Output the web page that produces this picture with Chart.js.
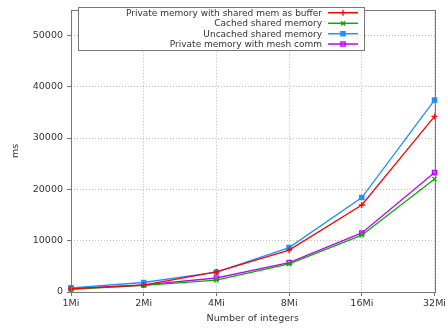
<!DOCTYPE html>
<html><head><meta charset="utf-8">
<script src="https://cdn.jsdelivr.net/npm/chart.js@4/dist/chart.umd.min.js"></script>
<style>html,body{margin:0;padding:0;background:#fff}#w{width:448px;height:328px}</style>
</head><body><div id="w"><canvas id="c"></canvas></div>
<script>
const categories = ['1Mi','2Mi','4Mi','8Mi','16Mi','32Mi'];
const seriesNames = ['Private memory with shared mem as buffer','Cached shared memory','Uncached shared memory','Private memory with mesh comm'];
const privateShared = [600, 1350, 3900, 8150, 16950, 34200];
const cachedShared = [500, 1280, 2300, 5480, 11070, 22000];
const uncachedShared = [820, 1850, 3880, 8650, 18400, 37400];
const privateMesh = [700, 1400, 2730, 5730, 11500, 23300];
const yTicks = [0, 10000, 20000, 30000, 40000, 50000];
const FONT = 'DejaVu Sans';
const TXT = '#333';

const styles = [
  {c:'#ff0000', p:'cross', bg:'#ff0000'},
  {c:'#00b000', p:'crossRot', bg:'#00b000'},
  {c:'#1e8fff', p:'rect', bg:'#1e8fff'},
  {c:'#c000ff', p:'rect', bg:'rgba(192,0,255,0.35)'}
];
const values = [privateShared, cachedShared, uncachedShared, privateMesh];

const legendPlugin = {
  id:'boxLegend',
  afterDraw(chart){
    const ctx = chart.ctx, a = chart.chartArea;
    ctx.save();
    ctx.strokeStyle = '#777'; ctx.lineWidth = 1; ctx.setLineDash([]);
    ctx.strokeRect(Math.round(a.left)+0.5, Math.round(a.top)+0.5, Math.round(a.right-a.left), Math.round(a.bottom-a.top));
    const bx=78, by=7, bw=286, bh=43;
    ctx.fillStyle='#fff'; ctx.fillRect(bx,by,bw,bh);
    ctx.strokeStyle='#777'; ctx.strokeRect(bx+0.5,by+0.5,bw,bh);
    ctx.font = '9px "'+FONT+'"'; ctx.textAlign='right'; ctx.textBaseline='middle';
    const rows=[12.7,23.3,33.7,44];
    chart.data.datasets.forEach((ds,i)=>{
      const y=rows[i];
      ctx.fillStyle=TXT; ctx.fillText(ds.label, 322, y+0.5);
      ctx.strokeStyle=ds.borderColor; ctx.lineWidth=1.5;
      ctx.beginPath(); ctx.moveTo(328,y); ctx.lineTo(358,y); ctx.stroke();
      ctx.fillStyle=ds.pointBackgroundColor; ctx.strokeStyle=ds.borderColor; ctx.lineWidth=1.3;
      Chart.helpers.drawPoint(ctx,{pointStyle:ds.pointStyle,radius:3,borderWidth:1.3,rotation:0},343,y);
    });
    ctx.restore();
  }
};

new Chart(document.getElementById('c'), {
  type:'line',
  data:{
    labels:categories,
    datasets: values.map((v,i)=>({
      label:seriesNames[i], data:v,
      borderColor:styles[i].c, borderWidth:1.3,
      pointStyle:styles[i].p, pointRadius:3, pointBorderWidth:1.3,
      pointBackgroundColor:styles[i].bg, pointBorderColor:styles[i].c,
      tension:0, fill:false
    }))
  },
  options:{
    responsive:true, maintainAspectRatio:false, animation:false,
    layout:{padding:{top:4,right:11,left:0,bottom:0}},
    plugins:{legend:{display:false}, tooltip:{enabled:false}},
    scales:{
      x:{
        type:'category', offset:false,
        grid:{color:'#bbbbbb', tickBorderDash:[], tickColor:'#777', tickLength:4, drawOnChartArea:true},
        border:{display:false, dash:[1,2]},
        ticks:{color:TXT, font:{family:FONT,size:9.5}, padding:2, maxRotation:0, autoSkip:false},
        title:{display:true, text:'Number of integers', color:TXT, font:{family:FONT,size:9.5}, padding:{top:2,bottom:4}},
        afterFit(s){ s.height = 36; }
      },
      y:{
        min:0, max:55000,
        afterBuildTicks(s){ s.ticks = yTicks.map(v=>({value:v})); },
        grid:{color:'#bbbbbb', tickBorderDash:[], tickColor:'#777', tickLength:4},
        border:{display:false, dash:[1,2]},
        ticks:{color:TXT, font:{family:FONT,size:9.5}, padding:4, callback:(v)=>String(v)},
        title:{display:true, text:'ms', color:TXT, font:{family:FONT,size:9.5}, padding:{top:10,bottom:0}},
        afterFit(s){ s.width = 71; }
      }
    }
  },
  plugins:[legendPlugin]
});
</script>
</body></html>
